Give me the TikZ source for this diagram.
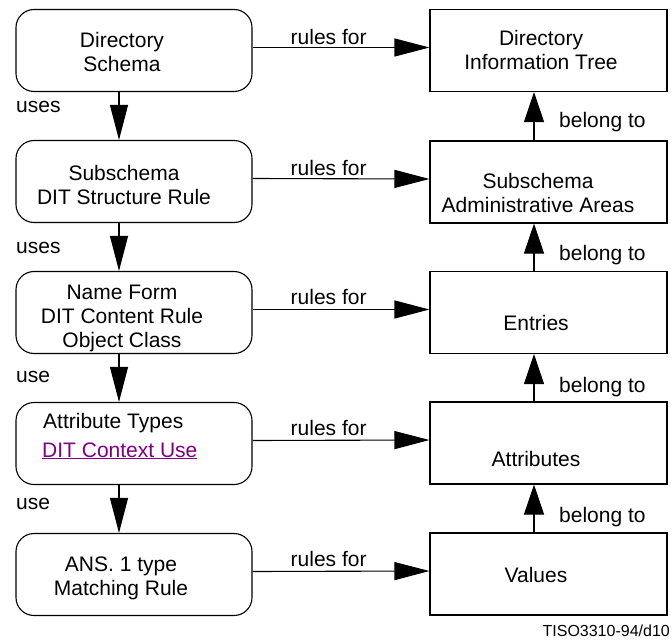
\documentclass[tikz,border=0pt]{standalone}
\usepackage{fontspec}
\setmainfont{Liberation Sans}
\usepackage{tikz}
\usetikzlibrary{arrows.meta}
\definecolor{linkpurple}{HTML}{800080}
\tikzset{schemabox/.style={
        draw,
        rectangle,
        rounded corners=18pt,
        line width=1.1pt,
        minimum width=236pt,
        minimum height=82pt
}}
\tikzset{infobox/.style={
        draw,
        rectangle,
        line width=1.1pt,
        minimum width=237pt,
        minimum height=82pt
}}
\tikzset{boxtext/.style={inner sep=0pt, align=center}}
\tikzset{lbl/.style={inner sep=0pt, anchor=base west}}
\tikzset{bigarrow/.style={draw, line width=1.1pt, -{Triangle[length=35pt,width=18pt]}}}
\tikzset{uparrow/.style={draw, line width=1.1pt, -{Triangle[length=30pt,width=20pt]}}}

\begin{document}
\begin{tikzpicture}[x=1pt,y=-1pt,every node/.style={font=\fontsize{21}{24}\selectfont}]
\useasboundingbox (0,0) rectangle (671,639);

% schema side
\node[schemabox] (dirschema) at (134,50.5) {};
\node[schemabox] (subschema) at (134,181.5) {};
\node[schemabox] (nameform) at (134,312.5) {};
\node[schemabox] (attrtypes) at (134,443.5) {};
\node[schemabox] (asntype) at (134,574.5) {};

\node[boxtext] (dirschema-txt) at (122,52) {Directory\\Schema};
\node[boxtext] (subschema-txt) at (124,185) {Subschema\\DIT Structure Rule};
\node[boxtext] (nameform-txt) at (122,318) {Name Form\\DIT Content Rule\\Object Class};
\node[lbl] (attrtypes-txt) at (43,428) {Attribute Types};
\node[lbl, text=linkpurple] (ctxuse-txt) at (42,457) {\underline{DIT Context Use}};
\node[boxtext] (asntype-txt) at (121,578.5) {ANS. 1 type\\Matching Rule};

% information side
\node[infobox] (dit) at (548.5,50.5) {};
\node[infobox] (adminareas) at (548.5,182) {};
\node[infobox] (entries) at (548.5,312.5) {};
\node[infobox] (attributes) at (548.5,443) {};
\node[infobox] (values) at (548.5,574) {};

\node[boxtext] (dit-txt) at (541,50) {Directory\\Information Tree};
\node[boxtext] (adminareas-txt) at (538,192.5) {Subschema\\Administrative Areas};
\node[boxtext] (entries-txt) at (536,323) {Entries};
\node[boxtext] (attributes-txt) at (536,458.5) {Attributes};
\node[boxtext] (values-txt) at (536,575) {Values};

% uses
\draw[bigarrow] ([xshift=-15pt]dirschema.south) -- ([xshift=-15pt]subschema.north);
\draw[bigarrow] ([xshift=-15pt]subschema.south) -- ([xshift=-15pt]nameform.north);
\draw[bigarrow] ([xshift=-15pt]nameform.south) -- ([xshift=-15pt]attrtypes.north);
\draw[bigarrow] ([xshift=-15pt]attrtypes.south) -- ([xshift=-15pt]asntype.north);
\node[lbl] (uses1) at (16,113) {uses};
\node[lbl] (uses2) at (16,253) {uses};
\node[lbl] (use1) at (16,382) {use};
\node[lbl] (use2) at (16,509) {use};

% rules for
\draw[bigarrow] ([yshift=3pt]dirschema.east) -- node[above, inner sep=2pt, pos=0.43] (rules1) {rules for} ([yshift=3pt]dit.west);
\draw[bigarrow] ([yshift=3pt]subschema.east) -- node[above, inner sep=2pt, pos=0.43] (rules2) {rules for} ([yshift=3pt]adminareas.west);
\draw[bigarrow] ([yshift=3pt]nameform.east) -- node[above, inner sep=4pt, pos=0.43] (rules3) {rules for} ([yshift=3pt]entries.west);
\draw[bigarrow] ([yshift=3pt]attrtypes.east) -- node[above, inner sep=4pt, pos=0.43] (rules4) {rules for} ([yshift=3pt]attributes.west);
\draw[bigarrow] ([yshift=3pt]asntype.east) -- node[above, inner sep=4pt, pos=0.43] (rules5) {rules for} ([yshift=3pt]values.west);

% belong to
\draw[uparrow] ([xshift=-14.5pt]adminareas.north) -- ([xshift=-14.5pt]dit.south);
\draw[uparrow] ([xshift=-14.5pt]entries.north) -- ([xshift=-14.5pt]adminareas.south);
\draw[uparrow] ([xshift=-14.5pt]attributes.north) -- ([xshift=-14.5pt]entries.south);
\draw[uparrow] ([xshift=-14.5pt]values.north) -- ([xshift=-14.5pt]attributes.south);
\node[lbl] (belong1) at (559,128) {belong to};
\node[lbl] (belong2) at (559,260) {belong to};
\node[lbl] (belong3) at (559,392) {belong to};
\node[lbl] (belong4) at (559,522) {belong to};

\node[anchor=base east, inner sep=0pt, font=\fontsize{16}{19}\selectfont] (figref) at (670,636) {TISO3310-94/d10};
\end{tikzpicture}
\end{document}
